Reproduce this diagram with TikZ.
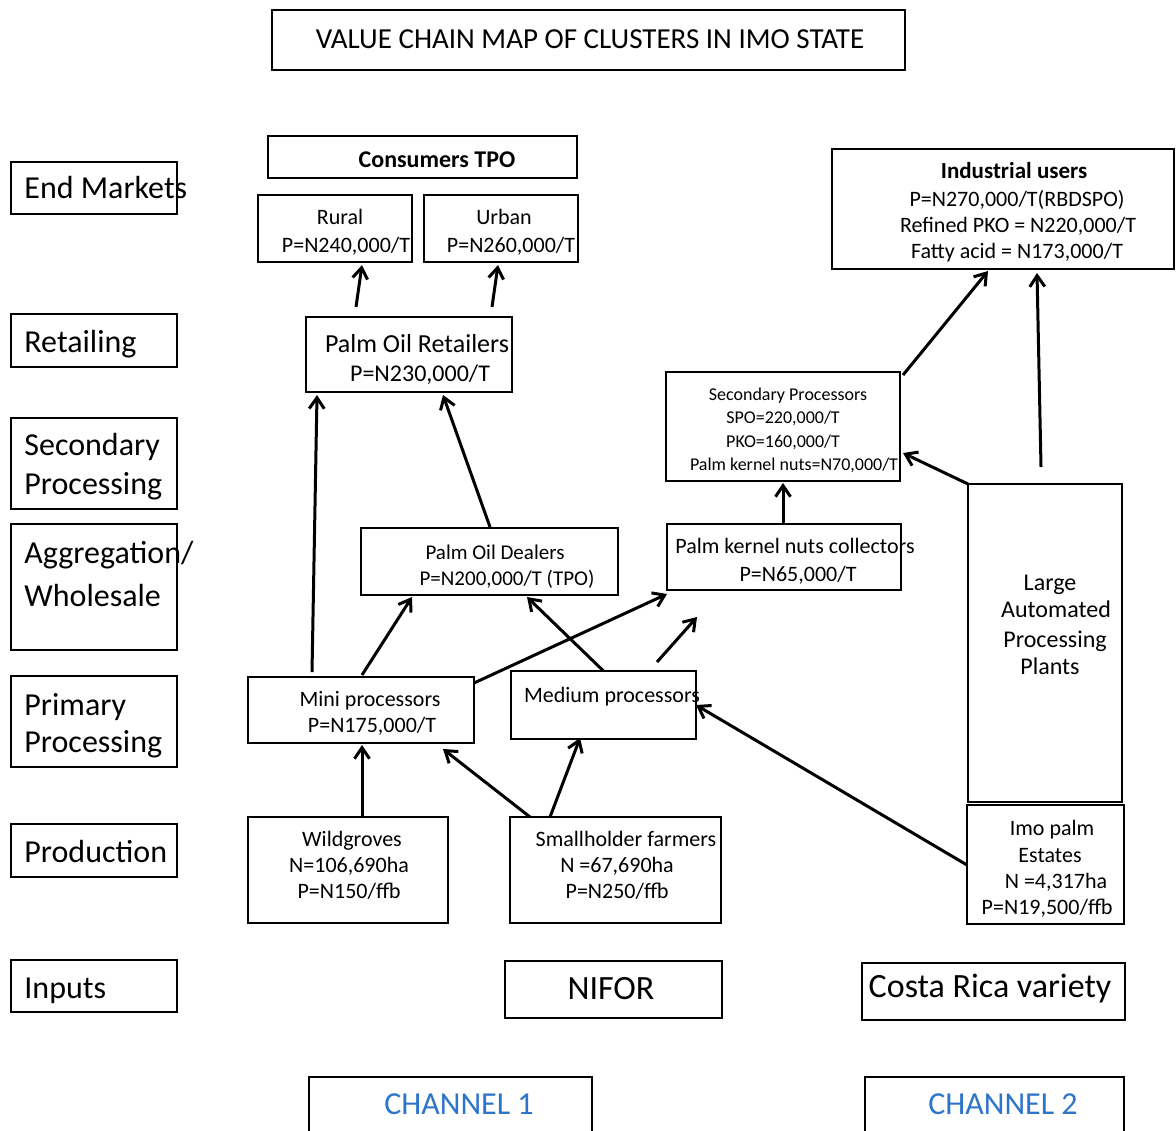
\documentclass[tikz,border=0pt]{standalone}
\usepackage{fontspec}
\setmainfont{Carlito}
\usetikzlibrary{arrows.meta,calc}
\definecolor{chblue}{RGB}{46,117,201}
\tikzset{
 boxst/.style={draw=black,line width=1.3pt,inner sep=0pt,outer sep=0pt},
 txt/.style={inner sep=0pt,anchor=mid,yshift=-1.75pt},
 ltxt/.style={inner sep=0pt,anchor=mid west,yshift=-1.75pt},
 arr/.style={line width=1.5pt,-{Straight Barb[length=5.5pt,width=7.5pt]}},
 fs9/.style={font=\fontsize{9}{10.5}\selectfont},
 fs10/.style={font=\fontsize{10.5}{12}\selectfont},
 fs11/.style={font=\fontsize{11}{13}\selectfont},
 fs12/.style={font=\fontsize{12}{14}\selectfont},
 fs13/.style={font=\fontsize{13}{15}\selectfont},
 fs14/.style={font=\fontsize{14.5}{17}\selectfont},
 fs16/.style={font=\fontsize{16}{19}\selectfont},
 fs17/.style={font=\fontsize{17}{20}\selectfont},
}
\newcommand\mkbox[6][]{%
 \pgfmathsetmacro\mbw{(#5-#3)*0.5}%
 \pgfmathsetmacro\mbh{(#6-#4)*0.5}%
 \node[boxst,minimum width=\mbw pt,minimum height=\mbh pt,#1] (#2) at ({(#3+#5)/2},{(#4+#6)/2}) {};}
\begin{document}
\begin{tikzpicture}[x=0.5pt,y=-0.5pt]
\useasboundingbox (0,0) rectangle (1176,1130);
% title
\mkbox[line width=0.8pt]{title}{272}{10}{905}{70}
\node[txt,fs14] (ttitle) at (590,40) {VALUE CHAIN MAP OF CLUSTERS IN IMO STATE};
% stage boxes
\mkbox{sEnd}{11}{162}{177}{214}
\mkbox{sRet}{11}{314}{177}{367}
\mkbox{sSec}{11}{418}{177}{509}
\mkbox{sAgg}{11}{524}{177}{650}
\mkbox{sPrim}{11}{676}{177}{767}
\mkbox{sProd}{11}{824}{177}{877}
\mkbox{sInp}{11}{960}{177}{1012}
\node[ltxt,fs16] (tEnd) at (24,190) {End Markets};
\node[ltxt,fs16] (tRet) at (24,344) {Retailing};
\node[ltxt,fs16] (tSecA) at (24,447) {Secondary};
\node[ltxt,fs16] (tSecB) at (24,486) {Processing};
\node[ltxt,fs16] (tAggA) at (24,555) {Aggregation/};
\node[ltxt,fs16] (tAggB) at (24,598) {Wholesale};
\node[ltxt,fs16] (tPrimA) at (24,707) {Primary};
\node[ltxt,fs16] (tPrimB) at (24,744) {Processing};
\node[ltxt,fs16] (tProd) at (24,854) {Production};
\node[ltxt,fs16] (tInp) at (24,990) {Inputs};
% channel 1 boxes
\mkbox{consumers}{268}{136}{577}{178}
\node[txt,font=\bfseries\fontsize{12}{14}\selectfont] (tcons) at (437,159) {Consumers TPO};
\mkbox{rural}{258}{195}{412}{262}
\node[txt,fs11] (trurA) at (340,216) {Rural};
\node[txt,fs11] (trurB) at (346,244) {P=N240,000/T};
\mkbox{urban}{424}{195}{578}{262}
\node[txt,fs11] (turbA) at (504,216) {Urban};
\node[txt,fs11] (turbB) at (511,244) {P=N260,000/T};
\mkbox{retail}{306}{317}{512}{392}
\node[txt,fs13] (tretA) at (417,344) {Palm Oil Retailers};
\node[txt,fs12] (tretB) at (420,373) {P=N230,000/T};
\mkbox{dealers}{361}{528}{618}{595}
\node[txt,fs10] (tdealA) at (495,551) {Palm Oil Dealers};
\node[txt,fs10] (tdealB) at (507,577) {P=N200,000/T (TPO)};
\mkbox{mini}{248}{677}{474}{743}
\node[txt,fs11] (tminiA) at (370,698) {Mini processors};
\node[txt,fs11] (tminiB) at (372,724) {P=N175,000/T};
\mkbox{medium}{511}{671}{696}{739}
\node[txt,fs11] (tmed) at (612,694) {Medium processors};
\mkbox{wild}{248}{817}{448}{923}
\node[txt,fs11] (twildA) at (352,838) {Wildgroves};
\node[txt,fs11] (twildB) at (349,864) {N=106,690ha};
\node[txt,fs11] (twildC) at (349,890) {P=N150/ffb};
\mkbox{small}{510}{817}{721}{923}
\node[txt,fs11] (tsmallA) at (626,838) {Smallholder farmers};
\node[txt,fs11] (tsmallB) at (617,864) {N =67,690ha};
\node[txt,fs11] (tsmallC) at (617,890) {P=N250/ffb};
\mkbox{nifor}{505}{961}{722}{1018}
\node[txt,fs17] (tnifor) at (611,991) {NIFOR};
% channel 2 boxes
\mkbox{ind}{832}{149}{1174}{269}
\node[txt,font=\bfseries\fontsize{11.5}{13}\selectfont] (tindA) at (1014,170) {Industrial users};
\node[txt,fs11] (tindB) at (1017,198) {P=N270,000/T(RBDSPO)};
\node[txt,fs11] (tindC) at (1018,224) {Refined PKO = N220,000/T};
\node[txt,fs11] (tindD) at (1017,250) {Fatty acid = N173,000/T};
\mkbox{secp}{666}{372}{900}{481}
\node[txt,fs9] (tsecA) at (788,392) {Secondary Processors};
\node[txt,fs9] (tsecB) at (783,415) {SPO=220,000/T};
\node[txt,fs9] (tsecC) at (783,439) {PKO=160,000/T};
\node[txt,fs9] (tsecD) at (794,462) {Palm kernel nuts=N70,000/T};
\mkbox{coll}{667}{524}{901}{590}
\node[txt,fs11] (tcollA) at (795,545) {Palm kernel nuts collectors};
\node[txt,fs11] (tcollB) at (798,573) {P=N65,000/T};
\mkbox{large}{968}{484}{1122}{802}
\node[txt,fs12] (tlargeA) at (1050,582) {Large};
\node[txt,fs12] (tlargeB) at (1056,609) {Automated};
\node[txt,fs12] (tlargeC) at (1055,639) {Processing};
\node[txt,fs12] (tlargeD) at (1050,666) {Plants};
\mkbox{imo}{967}{805}{1124}{924}
\node[txt,fs11] (timoA) at (1052,827) {Imo palm};
\node[txt,fs11] (timoB) at (1050,854) {Estates};
\node[txt,fs11] (timoC) at (1056,880) {N =4,317ha};
\node[txt,fs11] (timoD) at (1047,906) {P=N19,500/ffb};
\mkbox{costa}{862}{963}{1125}{1020}
\node[txt,fs17] (tcosta) at (990,989) {Costa Rica variety};
% channel labels
\mkbox{chA}{309}{1077}{592}{1150}
\node[txt,fs16,text=chblue] (tchA) at (459,1106) {CHANNEL 1};
\mkbox{chB}{865}{1077}{1124}{1150}
\node[txt,fs16,text=chblue] (tchB) at (1003,1106) {CHANNEL 2};
% arrows
\draw[arr] ($(retail.north)+(-53,-10)$) -- ($(rural.south)+(27,3)$);
\draw[arr] ($(retail.north)+(83,-10)$) -- ($(urban.south)+(-3,3)$);
\draw[arr] ($(mini.north)+(-49,-5)$) -- ($(retail.south)+(-92,3)$);
\draw[arr] ($(dealers.north)+(0.5,-1)$) -- ($(retail.south)+(34,3)$);
\draw[arr] ($(mini.north)+(1,-2)$) -- ($(dealers.south)+(-77.5,2)$);
\draw[arr] (medium.north) -- ($(dealers.south)+(37.5,2)$);
\draw[arr] ($(mini.east)+(0,-27)$) -- ($(coll.south west)+(0,4)$);
\coordinate (fa) at (657,662);
\coordinate (fb) at (697,617);
\draw[arr] (fa) -- (fb);
\draw[arr] ($(coll.north)+(-1,0)$) -- ($(secp.south)+(0,2)$);
\draw[arr] ($(secp.north east)+(3,3)$) -- ($(ind.south)+(-15,2)$);
\draw[arr] ($(large.north)+(-4,-17)$) -- ($(ind.south)+(34,4)$);
\draw[arr] (large.north west) -- ($(secp.east)+(3,26.5)$);
\draw[arr] ($(imo.west)+(0,0.5)$) -- (medium.east);
\draw[arr] ($(wild.north)+(14,0)$) -- ($(mini.south)+(1,2)$);
\draw[arr] ($(small.north)+(-85.5,0)$) -- ($(mini.south east)+(-31,6)$);
\draw[arr] ($(small.north)+(-65.5,0)$) -- ($(medium.south)+(-23.5,-1)$);
\end{tikzpicture}
\end{document}
